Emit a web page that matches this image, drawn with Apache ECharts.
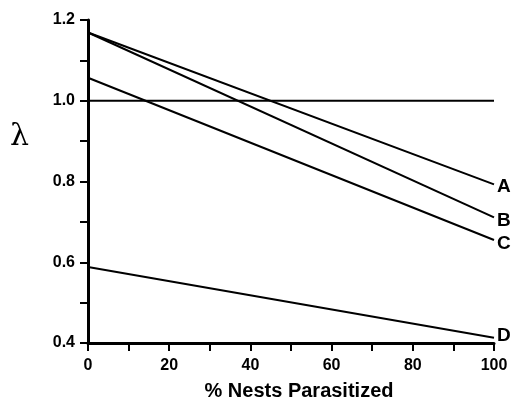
<!DOCTYPE html>
<html>
<head>
<meta charset="utf-8">
<script src="https://cdn.jsdelivr.net/npm/echarts@6/dist/echarts.min.js"></script>
<style>
  html, body { margin: 0; padding: 0; background: #fff; }
  #chart { width: 512px; height: 401px; }
</style>
</head>
<body>
<div id="chart"></div>
<script>
// data
const pctParasitized = [0, 100]
const lineA = [1.169, 0.793]
const lineB = [1.169, 0.711]
const lineC = [1.057, 0.655]
const lineD = [0.588, 0.413]
const baseline = [1.0, 1.0]
const yLabels = ['0.4', '0.6', '0.8', '1.0', '1.2']
const xLabels = ['0', '20', '40', '60', '80', '100']

const chart = echarts.init(document.getElementById('chart'))

const font = 'Liberation Sans, Arial, sans-serif'

const pairs = (vals) => pctParasitized.map((x, i) => [x, vals[i]])

const makeLine = (name, vals, dy) => ({
  name: name,
  type: 'line',
  data: pairs(vals),
  symbol: 'none',
  silent: true,
  lineStyle: { color: '#000', width: 2 },
  endLabel: {
    show: true,
    formatter: name,
    color: '#000',
    fontFamily: font,
    fontWeight: 'bold',
    fontSize: 19,
    distance: 3,
    offset: [0, dy]
  }
})

const option = {
  animation: false,
  backgroundColor: '#fff',
  grid: { left: 88, right: 18, top: 20, bottom: 58, outerBoundsMode: 'none' },
  xAxis: {
    type: 'value',
    min: 0,
    max: 100,
    interval: 10,
    name: '% Nests Parasitized',
    nameLocation: 'middle',
    nameGap: 38,
    nameTextStyle: {
      color: '#000', fontFamily: font, fontWeight: 'bold', fontSize: 20,
      padding: [0, 0, 0, 16]
    },
    axisLine: { show: true, onZero: false, lineStyle: { color: '#000', width: 3 } },
    axisTick: { show: true, length: 8, lineStyle: { color: '#000', width: 2 } },
    splitLine: { show: false },
    axisLabel: {
      color: '#000',
      fontFamily: font,
      fontWeight: 'bold',
      fontSize: 16,
      margin: 15,
      formatter: (v) => xLabels.includes(String(v)) ? String(v) : ''
    }
  },
  yAxis: {
    type: 'value',
    min: 0.4,
    max: 1.2,
    interval: 0.1,
    axisLine: { show: true, onZero: false, lineStyle: { color: '#000', width: 3 } },
    axisTick: { show: true, length: 8, lineStyle: { color: '#000', width: 2 } },
    splitLine: { show: false },
    axisLabel: {
      color: '#000',
      fontFamily: font,
      fontWeight: 'bold',
      fontSize: 16,
      margin: 13,
      formatter: (v) => {
        const s = v.toFixed(1)
        return yLabels.includes(s) ? s : ''
      }
    }
  },
  graphic: [
    {
      type: 'text',
      left: 10,
      top: 122,
      style: { text: 'λ', fill: '#000', font: '30px "DejaVu Serif", serif' }
    }
  ],
  series: [
    {
      name: 'baseline',
      type: 'line',
      data: pairs(baseline),
      symbol: 'none',
      silent: true,
      lineStyle: { color: '#000', width: 2 }
    },
    makeLine('A', lineA, 2),
    makeLine('B', lineB, 3),
    makeLine('C', lineC, 4),
    makeLine('D', lineD, -2)
  ]
}

chart.setOption(option)
</script>
</body>
</html>
